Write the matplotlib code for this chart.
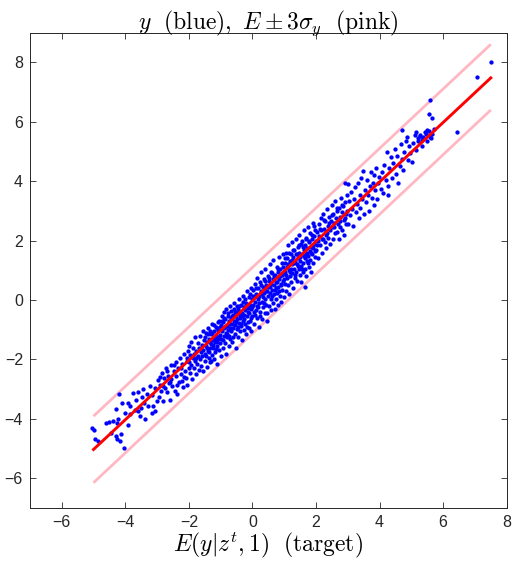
import numpy as np
import matplotlib
matplotlib.use('Agg')
import matplotlib.pyplot as plt

plt.rcParams['mathtext.fontset'] = 'cm'
plt.rcParams['font.family'] = ['Liberation Sans', 'DejaVu Sans']

pts = [
    # x in [-5,-4]
    (-5.04,-4.30), (-4.98,-4.38), (-4.95,-4.69), (-4.87,-4.75), (-4.03,-4.97), (-4.61,-4.13),
    (-4.50,-4.11), (-4.29,-3.68), (-4.45,-4.47), (-4.29,-4.58), (-4.27,-4.67), (-4.17,-4.73),
    (-4.14,-4.52), (-4.38,-4.08), (-4.27,-4.13), (-4.22,-4.02), (-4.09,-3.48), (-4.19,-3.15),
    (-4.01,-3.80),
    # x in [-4,-3]
    (-3.92,-3.46), (-3.85,-3.57), (-3.85,-3.85), (-3.70,-3.69), (-3.59,-3.74), (-3.75,-3.12),
    (-3.59,-3.10), (-3.43,-3.01), (-3.38,-4.02), (-3.17,-3.80), (-3.12,-3.57), (-3.01,-3.41),
    (-3.90,-4.20), (-3.65,-3.35), (-3.50,-3.62), (-3.46,-3.28), (-3.32,-3.15), (-3.28,-3.55),
    (-3.22,-2.88), (-3.15,-3.20), (-3.08,-2.95), (-3.05,-3.72), (-3.55,-3.90), (-3.40,-3.45),
    # x in [-3,-2]
    (-2.98,-2.70), (-2.95,-3.25), (-2.92,-2.85), (-2.88,-3.05), (-2.85,-2.45), (-2.82,-3.40),
    (-2.78,-2.62), (-2.75,-2.95), (-2.72,-2.30), (-2.70,-3.10), (-2.66,-2.55), (-2.63,-2.80),
    (-2.60,-3.35), (-2.57,-2.20), (-2.55,-2.65), (-2.52,-2.90), (-2.48,-2.40), (-2.45,-3.05),
    (-2.42,-2.10), (-2.40,-2.55), (-2.38,-3.15), (-2.35,-2.30), (-2.32,-2.75), (-2.28,-1.95),
    (-2.26,-2.50), (-2.23,-2.73), (-2.20,-2.15), (-2.18,-2.92), (-2.15,-1.80), (-2.12,-2.40),
    (-2.10,-2.62), (-2.07,-2.05), (-2.05,-2.85), (-2.03,-1.70), (-2.01,-2.30),
    (-2.90,-2.60), (-2.80,-2.90), (-2.68,-2.40), (-2.58,-2.75), (-2.46,-2.20), (-2.36,-2.85),
    (-2.24,-2.30), (-2.14,-2.60), (-2.06,-1.95),
    # x in [-2,-1]
    (-1.99,-2.10), (-1.98,-1.55), (-1.96,-2.45), (-1.95,-1.85), (-1.93,-2.20), (-1.92,-1.40),
    (-1.90,-2.65), (-1.88,-1.95), (-1.87,-1.62), (-1.85,-2.30), (-1.84,-1.80), (-1.82,-2.05),
    (-1.80,-1.25), (-1.79,-2.50), (-1.77,-1.70), (-1.76,-1.95), (-1.74,-2.15), (-1.72,-1.45),
    (-1.71,-1.88), (-1.69,-2.35), (-1.68,-1.60), (-1.66,-1.20), (-1.65,-2.00), (-1.63,-1.75),
    (-1.61,-2.22), (-1.60,-1.52), (-1.58,-1.90), (-1.57,-1.05), (-1.55,-2.40), (-1.54,-1.68),
    (-1.52,-1.35), (-1.50,-2.05), (-1.49,-1.80), (-1.47,-1.10), (-1.46,-1.55), (-1.44,-2.25),
    (-1.42,-1.42), (-1.41,-1.70), (-1.39,-0.95), (-1.38,-1.95), (-1.36,-1.30), (-1.34,-1.60),
    (-1.33,-2.10), (-1.31,-1.15), (-1.30,-1.48), (-1.28,-1.85), (-1.27,-0.80), (-1.25,-1.35),
    (-1.23,-1.62), (-1.22,-2.00), (-1.20,-1.05), (-1.19,-1.40), (-1.17,-1.75), (-1.15,-0.90),
    (-1.14,-1.22), (-1.12,-1.55), (-1.11,-2.15), (-1.09,-1.00), (-1.07,-1.32), (-1.06,-1.68),
    (-1.04,-0.70), (-1.03,-1.18), (-1.01,-1.45), (-1.00,-1.90),
    (-1.48,-1.25), (-1.45,-1.90), (-1.43,-1.60), (-1.40,-1.15), (-1.37,-1.75), (-1.35,-1.05),
    (-1.32,-1.40), (-1.29,-2.05), (-1.26,-1.10), (-1.24,-1.50), (-1.21,-0.85), (-1.18,-1.30),
    (-1.16,-1.65), (-1.13,-0.95), (-1.10,-1.40), (-1.08,-0.75), (-1.05,-1.25), (-1.02,-0.90),
    # x in [-1,0]
    (-0.99,-0.85), (-0.98,-1.30), (-0.96,-0.55), (-0.95,-1.05), (-0.94,-1.60), (-0.92,-0.75),
    (-0.91,-1.20), (-0.90,-0.40), (-0.88,-0.95), (-0.87,-1.45), (-0.86,-0.65), (-0.84,-1.10),
    (-0.83,-1.80), (-0.82,-0.30), (-0.80,-0.88), (-0.79,-1.25), (-0.78,-0.55), (-0.76,-1.00),
    (-0.75,-1.55), (-0.74,-0.72), (-0.72,-0.20), (-0.71,-0.95), (-0.70,-1.30), (-0.68,-0.60),
    (-0.67,-1.05), (-0.66,-0.38), (-0.64,-0.82), (-0.63,-1.42), (-0.62,-0.50), (-0.60,-0.95),
    (-0.59,-0.10), (-0.58,-0.70), (-0.56,-1.15), (-0.55,-0.40), (-0.54,-0.85), (-0.52,-1.60),
    (-0.51,-0.55), (-0.50,-0.20), (-0.48,-0.98), (-0.47,-0.65), (-0.46,-1.25), (-0.44,-0.30),
    (-0.43,-0.78), (-0.42,0.05), (-0.40,-0.50), (-0.39,-1.05), (-0.38,-0.62), (-0.36,-0.15),
    (-0.35,-0.88), (-0.34,-1.35), (-0.32,-0.42), (-0.31,0.15), (-0.30,-0.70), (-0.28,-0.25),
    (-0.27,-1.00), (-0.26,-0.50), (-0.24,0.05), (-0.23,-0.80), (-0.22,-0.35), (-0.20,-1.15),
    (-0.19,-0.10), (-0.18,-0.55), (-0.16,0.30), (-0.15,-0.75), (-0.14,-0.28), (-0.12,-0.95),
    (-0.11,0.10), (-0.10,-0.45), (-0.08,-0.18), (-0.07,-0.70), (-0.06,0.40), (-0.04,-0.30),
    (-0.03,-1.05), (-0.02,0.05), (0.00,-0.55),
    (-0.97,-0.70), (-0.93,-1.35), (-0.89,-0.60), (-0.85,-0.90), (-0.81,-1.15), (-0.77,-0.45),
    (-0.73,-1.20), (-0.69,-0.80), (-0.65,-0.55), (-0.61,-1.25), (-0.57,-0.30), (-0.53,-0.75),
    (-0.49,-0.40), (-0.45,-0.90), (-0.41,-0.20), (-0.37,-0.80), (-0.33,-0.55), (-0.29,-0.05),
    (-0.25,-0.65), (-0.21,-0.15), (-0.17,-0.90), (-0.13,-0.40), (-0.09,0.20), (-0.05,-0.60),
    (-0.01,-0.25),
    # x in [0,1]
    (0.01,-0.15), (0.02,0.35), (0.04,-0.40), (0.05,0.10), (0.06,-0.80), (0.08,0.55),
    (0.09,-0.05), (0.10,-0.35), (0.12,0.20), (0.13,-0.60), (0.14,0.75), (0.16,0.05),
    (0.17,-0.25), (0.18,0.40), (0.20,-0.90), (0.21,0.15), (0.22,-0.10), (0.24,0.60),
    (0.25,-0.40), (0.26,0.30), (0.28,0.95), (0.29,-0.05), (0.30,-0.65), (0.32,0.45),
    (0.33,0.10), (0.34,-0.25), (0.36,0.70), (0.37,0.25), (0.38,-0.45), (0.40,0.05),
    (0.41,1.05), (0.42,0.50), (0.44,-0.15), (0.45,0.30), (0.46,-0.70), (0.48,0.80),
    (0.49,0.15), (0.50,0.45), (0.52,-0.20), (0.53,0.65), (0.54,1.20), (0.56,0.25),
    (0.57,-0.35), (0.58,0.55), (0.60,0.05), (0.61,0.90), (0.62,0.35), (0.64,-0.10),
    (0.65,0.70), (0.66,1.35), (0.68,0.20), (0.69,0.50), (0.70,-0.30), (0.72,0.85),
    (0.73,0.40), (0.74,0.05), (0.76,1.10), (0.77,0.60), (0.78,0.25), (0.80,-0.15),
    (0.81,0.95), (0.82,0.45), (0.84,1.45), (0.85,0.70), (0.86,0.15), (0.88,1.05),
    (0.89,0.55), (0.90,-0.05), (0.92,0.85), (0.93,1.25), (0.94,0.35), (0.96,0.65),
    (0.97,1.55), (0.98,0.10), (1.00,0.90),
    (0.03,0.15), (0.07,-0.50), (0.11,0.40), (0.15,-0.20), (0.19,0.10), (0.23,-0.55),
    (0.27,0.50), (0.31,0.20), (0.35,-0.10), (0.39,0.65), (0.43,0.30), (0.47,-0.45),
    (0.51,0.75), (0.55,0.45), (0.59,0.95), (0.63,0.15), (0.67,0.80), (0.71,0.35),
    (0.75,0.60), (0.79,1.05), (0.83,0.30), (0.87,0.80), (0.91,0.50), (0.95,1.10), (0.99,0.70),
    # x in [1,2]
    (1.01,1.25), (1.02,0.55), (1.04,0.95), (1.05,1.60), (1.06,0.30), (1.08,1.10),
    (1.09,0.75), (1.10,1.40), (1.12,0.50), (1.13,1.85), (1.14,1.00), (1.16,0.20),
    (1.17,1.30), (1.18,0.80), (1.20,1.55), (1.21,1.05), (1.22,0.60), (1.24,1.95),
    (1.25,1.20), (1.26,0.90), (1.28,0.40), (1.29,1.45), (1.30,1.70), (1.32,1.05),
    (1.33,0.75), (1.34,1.30), (1.36,2.05), (1.37,1.55), (1.38,0.95), (1.40,1.20),
    (1.41,0.65), (1.42,1.80), (1.44,1.40), (1.45,1.05), (1.46,2.20), (1.48,1.60),
    (1.49,0.85), (1.50,1.30), (1.52,1.90), (1.53,1.15), (1.54,0.60), (1.56,1.55),
    (1.57,2.00), (1.58,1.25), (1.60,0.95), (1.61,1.70), (1.62,2.35), (1.64,1.40),
    (1.65,1.05), (1.66,1.85), (1.68,1.55), (1.69,0.80), (1.70,2.10), (1.72,1.30),
    (1.73,1.75), (1.74,2.45), (1.76,1.50), (1.77,1.10), (1.78,1.95), (1.80,1.65),
    (1.81,2.25), (1.82,1.35), (1.84,1.80), (1.85,0.95), (1.86,2.05), (1.88,1.55),
    (1.89,2.60), (1.90,1.75), (1.92,1.25), (1.93,2.15), (1.94,1.90), (1.96,1.45),
    (1.97,2.35), (1.98,1.65), (1.65,0.45),
    (1.03,1.40), (1.07,0.85), (1.11,1.20), (1.15,1.60), (1.19,0.95), (1.23,1.35),
    (1.27,1.70), (1.31,1.25), (1.35,0.85), (1.39,1.55), (1.43,1.15), (1.47,1.85),
    (1.51,1.45), (1.55,1.05), (1.59,1.80), (1.63,1.50), (1.67,2.05), (1.71,1.60),
    (1.75,1.25), (1.79,2.00), (1.83,1.60), (1.87,2.20), (1.91,1.85), (1.95,2.50), (1.99,2.00),
    # x in [2,3]
    (2.01,1.70), (2.03,2.30), (2.05,2.00), (2.07,1.40), (2.09,2.55), (2.11,2.15),
    (2.13,1.85), (2.15,2.75), (2.17,2.35), (2.19,1.60), (2.21,2.05), (2.23,2.90),
    (2.25,2.40), (2.27,1.95), (2.29,2.65), (2.31,2.20), (2.33,1.75), (2.35,3.05),
    (2.37,2.50), (2.39,2.10), (2.41,2.80), (2.43,2.35), (2.45,1.90), (2.47,2.65),
    (2.49,3.20), (2.51,2.45), (2.53,2.05), (2.55,2.90), (2.57,2.60), (2.59,2.25),
    (2.61,3.35), (2.63,2.75), (2.65,2.30), (2.67,3.00), (2.69,2.55), (2.71,2.05),
    (2.73,3.10), (2.75,2.80), (2.77,2.45), (2.79,3.45), (2.81,2.95), (2.83,2.35),
    (2.85,3.15), (2.87,2.70), (2.89,2.20), (2.91,3.30), (2.93,2.90), (2.95,2.55),
    (2.97,3.55), (2.99,3.00), (2.91,3.93), (3.01,3.91),
    (2.04,1.85), (2.12,2.40), (2.18,2.05), (2.26,2.70), (2.34,2.25), (2.42,2.60),
    (2.50,2.85), (2.58,2.45), (2.66,3.10), (2.74,2.65), (2.82,3.20), (2.90,2.75),
    # x in [3,4]
    (3.01,2.55), (3.04,3.35), (3.07,2.85), (3.10,3.65), (3.13,3.05), (3.16,2.50),
    (3.19,3.40), (3.22,3.80), (3.25,2.95), (3.28,3.25), (3.31,3.95), (3.34,2.75),
    (3.37,3.55), (3.40,3.10), (3.43,4.10), (3.46,3.40), (3.48,4.36), (3.51,2.90),
    (3.54,3.70), (3.57,3.30), (3.60,4.05), (3.63,3.55), (3.66,3.00), (3.69,3.85),
    (3.72,4.30), (3.75,3.45), (3.78,3.95), (3.81,3.20), (3.84,4.20), (3.87,3.70),
    (3.90,4.45), (3.93,3.40), (3.96,3.95), (3.99,4.15),
    # x in [4,5]
    (4.03,3.75), (4.07,4.30), (4.11,3.60), (4.15,4.55), (4.19,4.05), (4.22,4.99),
    (4.25,3.85), (4.27,3.54), (4.31,4.45), (4.35,4.80), (4.39,4.10), (4.43,4.60),
    (4.47,5.10), (4.51,4.25), (4.55,4.85), (4.59,3.93), (4.63,4.50), (4.67,5.25),
    (4.69,5.72), (4.71,4.75), (4.74,4.38), (4.78,5.00), (4.82,5.35), (4.85,5.48),
    (4.89,4.70), (4.93,5.20), (4.97,4.95),
    # x in [5,8]
    (5.01,4.66), (5.05,5.30), (5.10,5.55), (5.15,5.05), (5.20,5.45), (5.27,5.56),
    (5.32,5.20), (5.37,5.44), (5.42,5.65), (5.48,5.35), (5.55,5.70), (5.60,5.50),
    (5.65,5.60), (5.72,5.75), (5.16,5.67), (5.26,5.52), (5.38,5.50), (5.45,5.58),
    (5.50,5.72), (5.62,5.45), (5.34,5.40), (5.22,5.35),
    (5.58,6.73), (5.55,6.26), (5.64,6.14), (6.44,5.65), (7.07,7.51), (7.49,8.00),
]
x_pts = [p[0] for p in pts]
y_pts = [p[1] for p in pts]

# target mean line and the +/- 3 sigma band
line_x = [-5.0, 7.5]
line_e = [-5.03, 7.48]
band_hi = [-3.91, 8.61]
band_lo = [-6.15, 6.40]

fig = plt.figure(figsize=(5.16, 5.74), dpi=100)
ax = fig.add_axes([0.058, 0.115, 0.924, 0.828])

pink = (1.0, 0.72, 0.76)
ax.plot(line_x, band_hi, color=pink, lw=2.0, solid_capstyle='butt')
ax.plot(line_x, band_lo, color=pink, lw=2.0, solid_capstyle='butt')
ax.plot(x_pts, y_pts, 'o', color='blue', ms=3.1, mec='none')
ax.plot(line_x, line_e, color='red', lw=2.1)

ax.set_xlim(-7, 8)
ax.set_ylim(-7, 9)
ax.set_xticks(np.arange(-6, 9, 2))
ax.set_yticks(np.arange(-6, 9, 2))
ax.tick_params(direction='in', top=True, right=True, length=4, width=0.6,
               labelsize=11.5, colors='#262626', pad=5)
for s in ax.spines.values():
    s.set_linewidth(0.7)
    s.set_color('#262626')

ax.set_title(r'$y\ \ \mathrm{(blue)},\ E \pm 3\sigma_y\ \ \mathrm{(pink)}$', fontsize=17, pad=3)
ax.set_xlabel(r'$E(y|z^t,1)\ \ \mathrm{(target)}$', fontsize=17, labelpad=0)

fig.savefig('out.png', dpi=100)
